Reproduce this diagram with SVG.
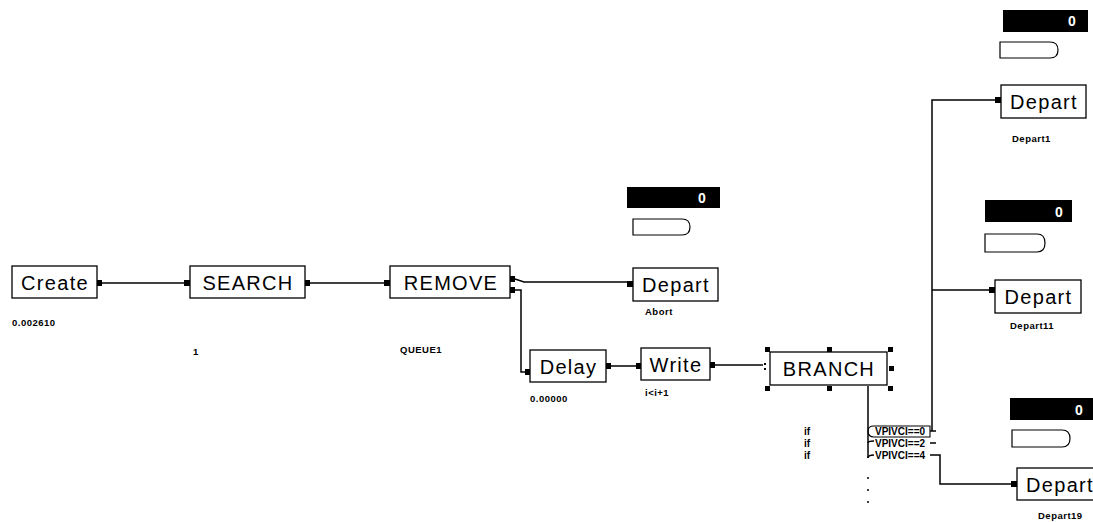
<svg xmlns="http://www.w3.org/2000/svg" width="1093" height="522" viewBox="0 0 1093 522">
<defs>
<style>
.box{fill:#fff;stroke:#000;stroke-width:1.3}
.bt{font-family:"Liberation Sans",Arial,sans-serif;font-size:20px;letter-spacing:1.3px;fill:#000}
.lb{font-family:"Liberation Sans",Arial,sans-serif;font-size:9.5px;font-weight:bold;letter-spacing:0.5px;fill:#000}
.rl{font-family:"Liberation Sans",Arial,sans-serif;font-size:10px;font-weight:bold;fill:#000}
.wire{fill:none;stroke:#000;stroke-width:1.5}
.port{fill:#000}
.disp{fill:#000}
.dn{font-family:"Liberation Sans",Arial,sans-serif;font-size:14px;font-weight:bold;fill:#fff}
.tab{fill:#fff;stroke:#000;stroke-width:1.2}
.h{fill:#000}
</style>
</defs>
<rect width="1093" height="522" fill="#fff"/>

<g id="connectors">
<path class="wire" d="M102,283 H184"/>
<path class="wire" d="M310,283 H384"/>
<path class="wire" d="M515,279 L524,282 H627"/>
<path class="wire" d="M515,290 H521 V372 H525"/>
<path class="wire" d="M611,366 H636"/>
<path class="wire" d="M715,365 H763"/>
<path class="wire" d="M868,386 V458"/>
<path class="wire" d="M868,458 Q868,455 874,455"/>
<path class="wire" d="M868,443 Q868,441 874,441"/>
<path class="wire" d="M932,431 V100 H995"/>
<path class="wire" d="M932,290 H989"/>
<path class="wire" d="M930,431 H936"/>
<path class="wire" d="M930,443 H936"/>
<path class="wire" d="M930,455 H940 V484 H1011"/>
<circle cx="868" cy="478" r="1" fill="#000"/>
<circle cx="868" cy="490" r="1" fill="#000"/>
<circle cx="868" cy="502" r="1" fill="#000"/>
</g>

<g id="create">
<rect class="box" x="12" y="266" width="85" height="32"/>
<text class="bt" x="55" y="290" text-anchor="middle">Create</text>
<rect class="port" x="97" y="280" width="5" height="6"/>
<text class="lb" x="12" y="326">0.002610</text>
</g>

<g id="search">
<rect class="box" x="190" y="266" width="115" height="32"/>
<text class="bt" x="248" y="290" text-anchor="middle">SEARCH</text>
<rect class="port" x="184" y="280" width="6" height="6"/>
<rect class="port" x="305" y="280" width="5" height="6"/>
<text class="lb" x="193" y="355">1</text>
</g>

<g id="remove">
<rect class="box" x="390" y="266" width="120" height="32"/>
<text class="bt" x="451" y="290" text-anchor="middle">REMOVE</text>
<rect class="port" x="384" y="280" width="6" height="6"/>
<rect class="port" x="510" y="276" width="5" height="6"/>
<rect class="port" x="510" y="287" width="5" height="6"/>
<text class="lb" x="400" y="353">QUEUE1</text>
</g>

<g id="depart-abort">
<rect class="disp" x="627" y="187" width="93" height="21"/>
<text class="dn" x="698" y="203">0</text>
<path class="tab" d="M633,219 H682 Q690,219 690,227 Q690,235 682,235 H633 Z"/>
<rect class="box" x="633" y="268" width="85" height="33"/>
<text class="bt" x="676" y="292" text-anchor="middle">Depart</text>
<rect class="port" x="627" y="281" width="6" height="6"/>
<text class="lb" x="645" y="315">Abort</text>
</g>

<g id="delay">
<rect class="box" x="530" y="350" width="76" height="32"/>
<text class="bt" x="568.5" y="374" text-anchor="middle">Delay</text>
<rect class="port" x="525" y="369" width="5" height="6"/>
<rect class="port" x="606" y="363" width="5" height="6"/>
<text class="lb" x="530" y="402">0.00000</text>
</g>

<g id="write">
<rect class="box" x="641" y="348" width="69" height="32"/>
<text class="bt" x="676" y="372" text-anchor="middle">Write</text>
<rect class="port" x="636" y="363" width="5" height="6"/>
<rect class="port" x="710" y="362" width="5" height="6"/>
<text class="lb" x="645" y="396">i&lt;i+1</text>
</g>

<g id="branch">
<rect class="box" x="770" y="352" width="117" height="33"/>
<text class="bt" x="829" y="376" text-anchor="middle">BRANCH</text>
<rect class="h" x="765" y="347" width="5" height="5"/>
<rect class="h" x="827" y="347" width="5" height="5"/>
<rect class="h" x="888" y="347" width="5" height="5"/>
<rect class="h" x="889" y="366" width="5" height="5"/>
<rect class="h" x="765" y="386" width="5" height="5"/>
<rect class="h" x="827" y="386" width="5" height="5"/>
<rect class="h" x="888" y="386" width="5" height="5"/>
<rect class="h" x="764" y="363" width="2" height="2"/>
<rect class="h" x="764" y="368" width="2" height="2"/>
</g>

<g id="conditions">
<text class="rl" x="804" y="435">if</text>
<text class="rl" x="804" y="447">if</text>
<text class="rl" x="804" y="459">if</text>
<path class="wire" d="M868,431 Q868,426 874,426 H930 V437 H874 Q868,437 868,431" style="stroke-width:1.1"/>
<text class="rl" x="875" y="435">VPIVCI==0</text>
<text class="rl" x="875" y="447">VPIVCI==2</text>
<text class="rl" x="875" y="459">VPIVCI==4</text>
</g>

<g id="depart1">
<rect class="disp" x="1003" y="10" width="85" height="22"/>
<text class="dn" x="1068" y="26">0</text>
<path class="tab" d="M1000,42 H1050 Q1058,42 1058,50 Q1058,58 1050,58 H1000 Z"/>
<rect class="box" x="1001" y="85" width="85" height="33"/>
<text class="bt" x="1044" y="109" text-anchor="middle">Depart</text>
<rect class="port" x="995" y="97" width="6" height="6"/>
<text class="lb" x="1012" y="142">Depart1</text>
</g>

<g id="depart11">
<rect class="disp" x="985" y="200" width="87" height="22"/>
<text class="dn" x="1055" y="217">0</text>
<path class="tab" d="M985,234 H1037 Q1045,234 1045,243 Q1045,252 1037,252 H985 Z"/>
<rect class="box" x="995" y="280" width="86" height="33"/>
<text class="bt" x="1038.5" y="304" text-anchor="middle">Depart</text>
<rect class="port" x="989" y="287" width="6" height="6"/>
<text class="lb" x="1010" y="329">Depart11</text>
</g>

<g id="depart19">
<rect class="disp" x="1010" y="398" width="83" height="22"/>
<text class="dn" x="1075" y="415">0</text>
<path class="tab" d="M1012,430 H1062 Q1070,430 1070,438.5 Q1070,447 1062,447 H1012 Z"/>
<rect class="box" x="1017" y="468" width="86" height="32"/>
<text class="bt" x="1060" y="492" text-anchor="middle">Depart</text>
<rect class="port" x="1011" y="481" width="6" height="6"/>
<text class="lb" x="1038" y="519">Depart19</text>
</g>
</svg>
